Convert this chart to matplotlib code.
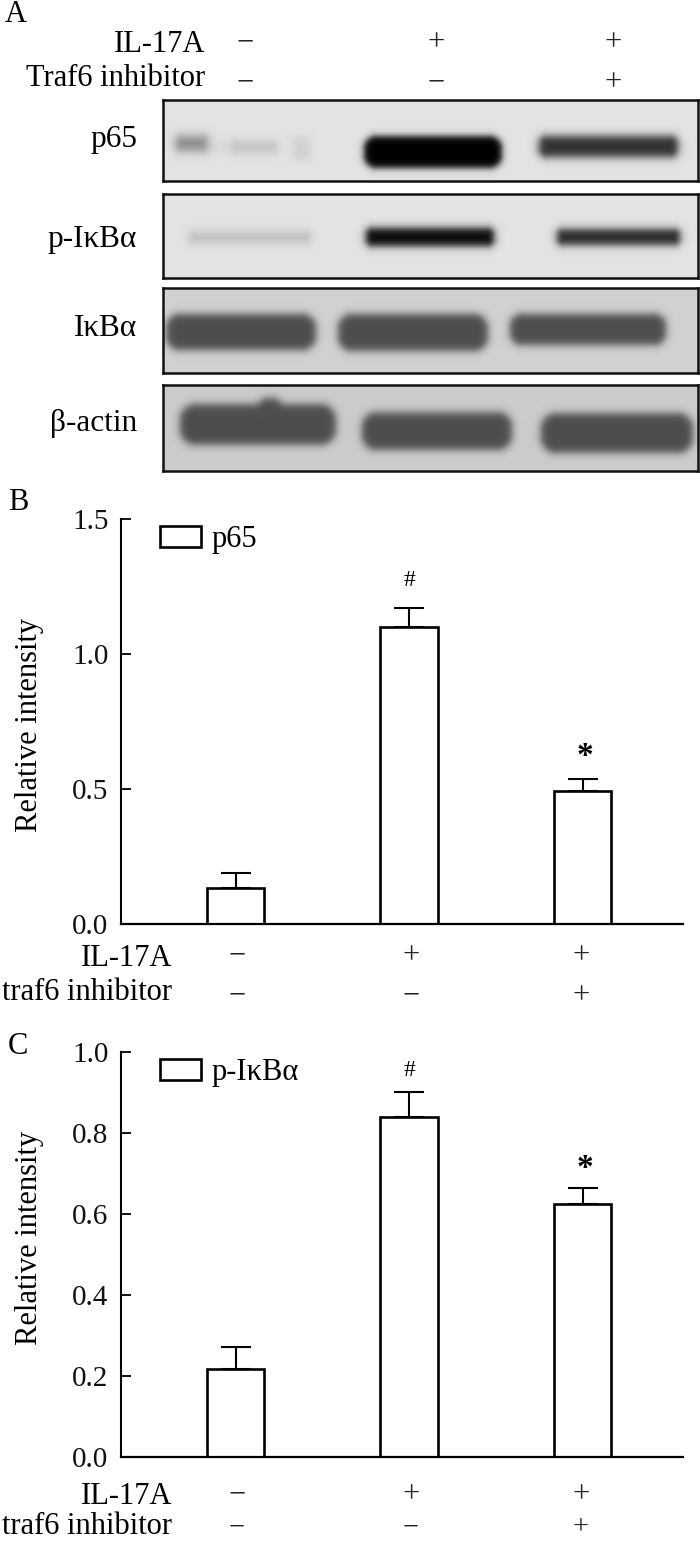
#!/usr/bin/env python3

import matplotlib
matplotlib.use("Agg")
import matplotlib.pyplot as plt
import numpy as np

plt.rcParams['font.family'] = ['Liberation Serif', 'DejaVu Serif']

W, H = 700, 1541

# bar data
groups = [0, 1, 2]
p65_values = [0.133, 1.10, 0.493]
p65_err = [0.056, 0.07, 0.044]
pikb_values = [0.217, 0.84, 0.625]
pikb_err = [0.055, 0.061, 0.039]
p65_ticks = [0.0, 0.5, 1.0, 1.5]
pikb_ticks = [0.0, 0.2, 0.4, 0.6, 0.8, 1.0]
il17a_signs = ["\u2212", "+", "+"]
traf6_signs = ["\u2212", "\u2212", "+"]

# blot names, box top/bottom, background grey
blot_names = ["p65", "p-I\u03baB\u03b1", "I\u03baB\u03b1", "\u03b2-actin"]
blot_tops = [100, 194, 288, 385]
blot_bottoms = [181, 278, 373, 471]
blot_label_y = [139, 239, 329, 424]
blot_bg = [0.89, 0.89, 0.82, 0.80]
# bands: x0, x1, y0, y1, grey, strength, softness
blot_bands = [
    [(176, 208, 136, 151, 0.50, 0.9, 3), (232, 277, 141, 153, 0.68, 0.6, 3), (293, 310, 137, 160, 0.74, 0.5, 3),
     (208, 236, 143, 151, 0.78, 0.4, 3), (364, 502, 136, 168, 0.0, 1.0, 2), (539, 678, 136, 157, 0.14, 0.95, 2.6)],
    [(190, 310, 232, 243, 0.68, 0.7, 3), (366, 494, 228, 246, 0.03, 1.0, 2.4), (557, 680, 229, 245, 0.12, 0.95, 2.4)],
    [(166, 316, 314, 350, 0.30, 1.0, 2.4), (338, 488, 314, 351, 0.30, 1.0, 2.4), (510, 666, 314, 345, 0.30, 1.0, 2.4)],
    [(180, 336, 405, 445, 0.30, 1.0, 2.4), (260, 280, 399, 425, 0.30, 0.9, 2.4), (362, 512, 413, 450, 0.30, 1.0, 2.4),
     (541, 693, 414, 453, 0.30, 1.0, 2.4)],
]


def fx(x):
    return x / W


def fy(y):
    return 1 - y / H


def px_axes(x0, y0, x1, y1):
    return fig.add_axes([fx(x0), fy(y1), (x1 - x0) / W, (y1 - y0) / H])


def draw_blot(top, bottom, bg, bands):
    x0, x1 = 163, 698
    ax = px_axes(x0, top, x1, bottom)
    xx, yy = np.meshgrid(np.arange(x0, x1) + 0.5, np.arange(top, bottom) + 0.5)
    img = np.full(xx.shape, bg, dtype=float)
    for bx0, bx1, by0, by1, grey, strength, soft in bands:
        hw, hh = (bx1 - bx0) / 2, (by1 - by0) / 2
        rad = min(hw, hh) * 0.8
        qx = np.abs(xx - (bx0 + bx1) / 2) - (hw - rad)
        qy = np.abs(yy - (by0 + by1) / 2) - (hh - rad)
        dist = np.hypot(np.maximum(qx, 0), np.maximum(qy, 0)) + np.minimum(np.maximum(qx, qy), 0) - rad
        alpha = strength / (1 + np.exp(dist / soft))
        img = img + (grey - img) * alpha
    ax.imshow(img, cmap="gray", vmin=0, vmax=1, aspect="auto", interpolation="bilinear")
    ax.set_xticks([])
    ax.set_yticks([])
    for s in ax.spines.values():
        s.set_linewidth(1.8)
        s.set_color("#111111")


def sign_rows(label1, label2, label_x, columns, y1, y2, sign_y1, sign_y2, last_size=22):
    fig.text(fx(label_x), fy(y1), label1, ha="right", va="center", fontsize=22)
    fig.text(fx(label_x), fy(y2), label2, ha="right", va="center", fontsize=22)
    for c, a, b in zip(columns, il17a_signs, traf6_signs):
        fig.text(fx(c), fy(sign_y1), a, ha="center", va="center", fontsize=22, color="#222222")
        fig.text(fx(c), fy(sign_y2), b, ha="center", va="center", fontsize=last_size, color="#222222")


def bar_panel(top, bottom, values, errs, ticks, ymax, name, fmt, hash_y, star_y, ylabel_y):
    left, right = 121, 683
    ax = px_axes(left, top, right, bottom)
    step = 173.5
    ax.set_xlim(-(235.5 - left) / step, 2 + (right - 582.5) / step)
    ax.set_ylim(0, ymax)
    bars = ax.bar(groups, values, width=0.33, color="white", edgecolor="black", linewidth=1.9,
                  label=name, zorder=2)
    ax.errorbar(groups, values, yerr=[[0, 0, 0], errs], fmt="none", ecolor="black", elinewidth=1.5,
                capsize=11, capthick=1.5, zorder=1)
    ax.spines["top"].set_visible(False)
    ax.spines["right"].set_visible(False)
    ax.spines["left"].set_linewidth(1.5)
    ax.spines["bottom"].set_linewidth(1.6)
    ax.set_xticks([])
    ax.set_yticks(ticks)
    ax.set_yticklabels([fmt % t for t in ticks])
    ax.tick_params(axis="y", direction="in", length=7, width=1.3, labelsize=21, pad=9)
    for t in ax.get_yticklabels():
        t.set_color("#111111")
    ax.legend(handles=[bars[0]], labels=[name], loc="upper left", frameon=False, fontsize=22,
              bbox_to_anchor=(0.069, 0.985), borderaxespad=0, borderpad=0, handlelength=1.34,
              handleheight=0.72, handletextpad=0.36)
    fig.text(fx(410), fy(hash_y), "#", ha="center", va="center", fontsize=17)
    fig.text(fx(585), fy(star_y), "*", ha="center", va="center", fontsize=24, fontweight="bold")
    fig.text(fx(30), fy(ylabel_y), "Relative intensity", rotation=90, ha="center", va="center", fontsize=22)


fig = plt.figure(figsize=(W / 100, H / 100), dpi=100)

# panel A
for top, bottom, bg, bands in zip(blot_tops, blot_bottoms, blot_bg, blot_bands):
    draw_blot(top, bottom, bg, bands)
for name, y in zip(blot_names, blot_label_y):
    fig.text(fx(137), fy(y), name, ha="right", va="center", fontsize=22.5)
sign_rows("IL-17A", "Traf6 inhibitor", 205, [245, 436, 613], 44, 78, 43, 83)

# panel B
bar_panel(519, 924, p65_values, p65_err, p65_ticks, 1.5, "p65", "%.1f", 581, 756, 725)
sign_rows("IL-17A", "traf6 inhibitor", 172, [237, 411, 581], 959, 992, 956, 996)

# panel C
bar_panel(1052, 1457, pikb_values, pikb_err, pikb_ticks, 1.0, "p-I\u03baB\u03b1", "%.1f", 1070, 1169, 1238)
# last row sits at the bottom edge, so a touch smaller to stay inside the figure
sign_rows("IL-17A", "traf6 inhibitor", 172, [237, 411, 581], 1497, 1527, 1495, 1528, last_size=20.5)

fig.text(fx(5), fy(15), "A", ha="left", va="center", fontsize=22)
fig.text(fx(8), fy(503), "B", ha="left", va="center", fontsize=22)
fig.text(fx(8), fy(1047), "C", ha="left", va="center", fontsize=22)

fig.savefig("out.png", dpi=100)
